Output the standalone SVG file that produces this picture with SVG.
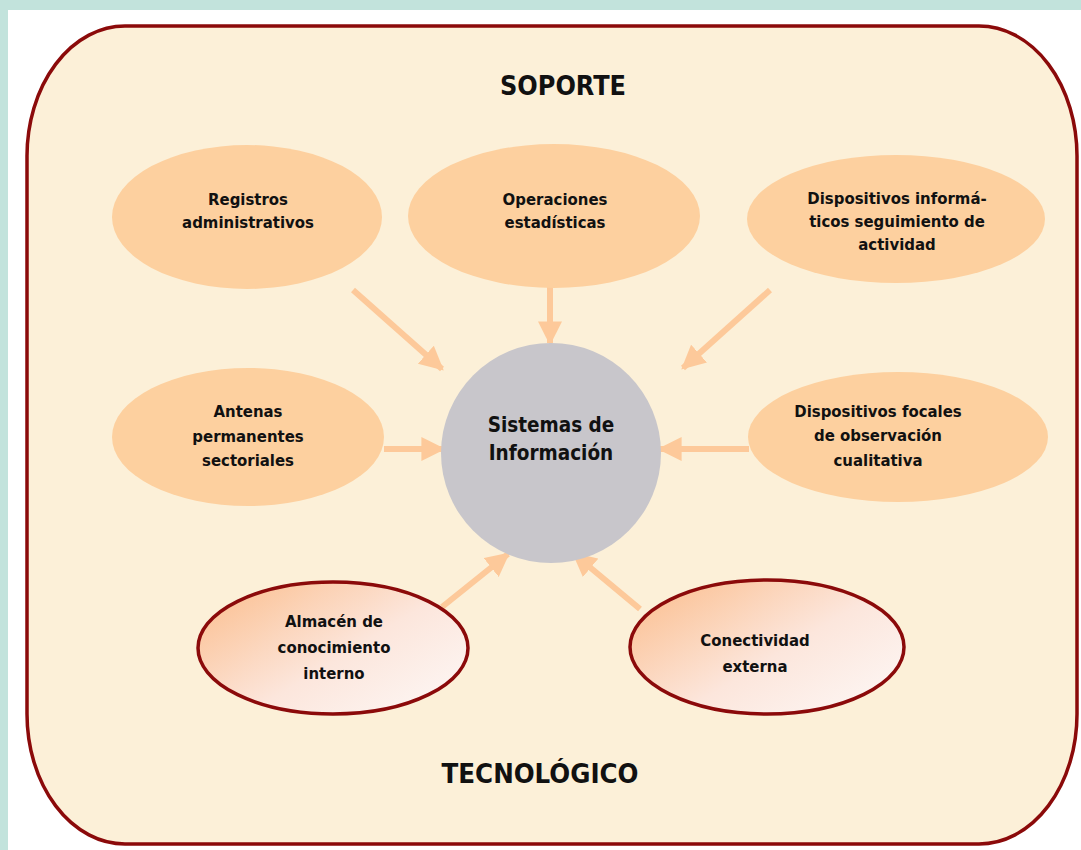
<svg xmlns="http://www.w3.org/2000/svg" width="1081" height="850" viewBox="0 0 1081 850">
<defs>
<style>
.t{font-family:"DejaVu Sans Condensed","DejaVu Sans",sans-serif;font-weight:bold;fill:#111;text-anchor:middle}
.n{font-size:16.6px}
.big{font-size:26px}
.pe{fill:#fdd09f}
.ln{stroke:#fdc99a;stroke-width:6;fill:none;marker-end:url(#ah)}
.ring{stroke:#8b0a0a;stroke-width:3.5;fill:url(#gr)}
</style>
<marker id="ah" markerWidth="4" markerHeight="4" refX="3.6" refY="2" orient="auto" markerUnits="strokeWidth">
<path d="M0,0 L4,2 L0,4 Z" fill="#fdc99a"/>
</marker>
<linearGradient id="gr" x1="0" y1="0.1" x2="1" y2="0.9">
<stop offset="0" stop-color="#fbbf90"/>
<stop offset="0.55" stop-color="#fce6dc"/>
<stop offset="1" stop-color="#fdf7f5"/>
</linearGradient>
</defs>
<rect x="0" y="0" width="1081" height="850" fill="#ffffff"/>
<rect x="0" y="0" width="1081" height="10" fill="#c2e3dc"/>
<rect x="0" y="0" width="8" height="850" fill="#c2e3dc"/>
<g id="frame">
<rect x="27" y="26" width="1050" height="818" rx="98" ry="130" fill="#fcf0d8" stroke="#8b0a0a" stroke-width="3.5"/>
<text class="t big" x="563" y="95" textLength="126" lengthAdjust="spacingAndGlyphs">SOPORTE</text>
<text class="t big" x="540" y="783" textLength="197" lengthAdjust="spacingAndGlyphs">TECNOLÓGICO</text>
</g>
<g id="connectors">
<line class="ln" x1="353" y1="290" x2="442" y2="369"/>
<line class="ln" x1="550" y1="287" x2="550" y2="343"/>
<line class="ln" x1="770" y1="290" x2="683" y2="368"/>
<line class="ln" x1="384" y1="449" x2="443" y2="449"/>
<line class="ln" x1="749" y1="449" x2="660" y2="449"/>
<line class="ln" x1="442" y1="607" x2="508" y2="554"/>
<line class="ln" x1="640" y1="609" x2="574" y2="554"/>
</g>
<g id="registros">
<ellipse class="pe" cx="247" cy="217" rx="135" ry="72"/>
<text class="t n" x="248" y="205">Registros</text>
<text class="t n" x="248" y="228">administrativos</text>
</g>
<g id="operaciones">
<ellipse class="pe" cx="554" cy="216" rx="146" ry="72"/>
<text class="t n" x="555" y="205">Operaciones</text>
<text class="t n" x="555" y="228">estadísticas</text>
</g>
<g id="dispositivos-informaticos">
<ellipse class="pe" cx="896" cy="219" rx="149" ry="64"/>
<text class="t n" x="897" y="204">Dispositivos informá-</text>
<text class="t n" x="897" y="227">ticos seguimiento de</text>
<text class="t n" x="897" y="250">actividad</text>
</g>
<g id="antenas">
<ellipse class="pe" cx="248" cy="437" rx="136" ry="69"/>
<text class="t n" x="248" y="417">Antenas</text>
<text class="t n" x="248" y="442">permanentes</text>
<text class="t n" x="248" y="466">sectoriales</text>
</g>
<g id="dispositivos-focales">
<ellipse class="pe" cx="898" cy="437" rx="150" ry="65"/>
<text class="t n" x="878" y="417">Dispositivos focales</text>
<text class="t n" x="878" y="441">de observación</text>
<text class="t n" x="878" y="466">cualitativa</text>
</g>
<g id="sistemas">
<circle cx="551" cy="453" r="110" fill="#c8c6cb"/>
<text class="t" style="font-size:20.5px" x="551" y="432">Sistemas de</text>
<text class="t" style="font-size:20.5px" x="551" y="460">Información</text>
</g>
<g id="almacen">
<ellipse class="ring" cx="333" cy="648" rx="135" ry="66"/>
<text class="t n" x="334" y="627">Almacén de</text>
<text class="t n" x="334" y="653">conocimiento</text>
<text class="t n" x="334" y="679">interno</text>
</g>
<g id="conectividad">
<ellipse class="ring" cx="767" cy="647" rx="137" ry="67"/>
<text class="t n" x="755" y="646">Conectividad</text>
<text class="t n" x="755" y="672">externa</text>
</g>
</svg>
